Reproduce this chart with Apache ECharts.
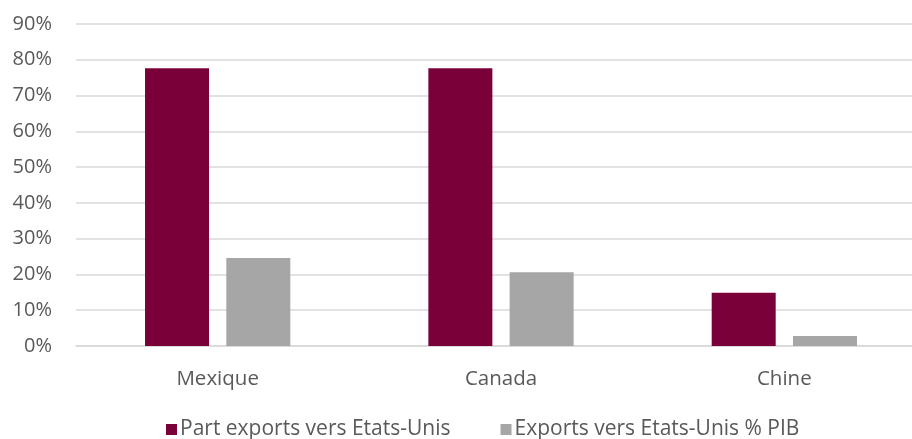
<!DOCTYPE html>
<html>
<head>
<meta charset="utf-8">
<script src="https://cdn.jsdelivr.net/npm/echarts@6/dist/echarts.min.js"></script>
<style>html,body{margin:0;padding:0;background:#fff;}#c{width:912px;height:439px;}</style>
</head>
<body>
<div id="c"></div>
<script>
const categories = ['Mexique', 'Canada', 'Chine'];
const partExports = [77.6, 77.6, 14.9];
const exportsPib = [24.6, 20.6, 2.8];
const seriesNames = ['Part exports vers Etats-Unis', 'Exports vers Etats-Unis % PIB'];

const chart = echarts.init(document.getElementById('c'), null, {renderer: 'canvas'});
const font = 'Open Sans';
const textColor = '#595959';
chart.setOption({
  animation: false,
  backgroundColor: '#ffffff',
  grid: {left: 76, right: -14, top: 24, bottom: 93, containLabel: false, outerBoundsMode: 'none'},
  legend: {
    left: 166, top: 419, padding: 0,
    itemWidth: 11, itemHeight: 11, itemGap: 50,
    icon: 'rect',
    textStyle: {fontFamily: font, fontSize: 21, color: textColor, padding: [0,0,0,-2]},
    data: seriesNames
  },
  xAxis: {
    type: 'category',
    data: categories,
    axisTick: {show: false},
    axisLine: {lineStyle: {color: '#D9D9D9', width: 1.5}},
    axisLabel: {fontFamily: font, fontSize: 20.5, color: textColor, margin: 23}
  },
  yAxis: {
    type: 'value',
    min: 0, max: 90, interval: 10,
    axisLabel: {formatter: '{value}%', fontFamily: font, fontSize: 20, color: textColor, margin: 24},
    axisLine: {show: false},
    axisTick: {show: false},
    splitLine: {lineStyle: {color: '#D9D9D9', width: 1.5}}
  },
  series: [
    {name: seriesNames[0], type: 'bar', data: partExports, itemStyle: {color: '#7A0039'}, barWidth: 64, barGap: '27%'},
    {name: seriesNames[1], type: 'bar', data: exportsPib, itemStyle: {color: '#A6A6A6'}, barWidth: 64, barGap: '27%'}
  ]
});
</script>
</body>
</html>
